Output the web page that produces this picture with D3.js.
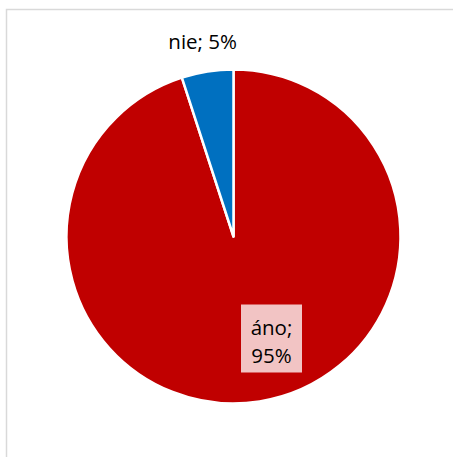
<!DOCTYPE html>
<html><head><meta charset="utf-8">
<script src="https://cdn.jsdelivr.net/npm/d3@7"></script>
<style>html,body{margin:0;padding:0;background:#fff;}svg{display:block;}</style>
</head><body>
<svg id="c" width="453" height="457"></svg>
<script>
const categories = ["áno", "nie"];
const values = [95, 5];
const labels = ["áno; 95%", "nie; 5%"];
const colors = ["#C00000", "#0070C0"];

const svg = d3.select("#c");
svg.append("rect").attr("x", 6.5).attr("y", 9.5).attr("width", 460).attr("height", 460)
  .attr("fill", "#fff").attr("stroke", "#D9D9D9").attr("stroke-width", 1.5);

const cx = 233.5, cy = 236.5, r = 167;
const g = svg.append("g").attr("transform", `translate(${cx},${cy})`);
const pie = d3.pie().sort(null).value(d => d)(values);
const arc = d3.arc().innerRadius(0).outerRadius(r);
g.selectAll("path").data(pie).join("path")
  .attr("d", arc).attr("fill", (d, i) => colors[i])
  .attr("stroke", "#fff").attr("stroke-width", 2.5).attr("stroke-linejoin", "round");

const font = "'Open Sans', sans-serif";
// áno label (inside, boxed)
const aLab = g.append("g").attr("transform", "translate(38,102)");
aLab.append("rect").attr("x", -30.5).attr("y", -34).attr("width", 61).attr("height", 68).attr("fill", "#F2C4C4");
const parts = labels[0].split(" ");
aLab.append("text").attr("text-anchor", "middle").attr("font-family", font).attr("font-size", 20.5).attr("fill", "#000")
  .selectAll("tspan").data(parts).join("tspan")
  .attr("x", 0).attr("y", (d, i) => i === 0 ? -4 : 24).text(d => d);

// nie label (outside)
const mid = (pie[1].startAngle + pie[1].endAngle) / 2;
const lr = r + 24;
g.append("text").attr("text-anchor", "middle").attr("font-family", font).attr("font-size", 20.5).attr("fill", "#000")
  .attr("x", Math.sin(mid) * lr - 1).attr("y", -Math.cos(mid) * lr + 1.5).text(labels[1]);
</script>
</body></html>
